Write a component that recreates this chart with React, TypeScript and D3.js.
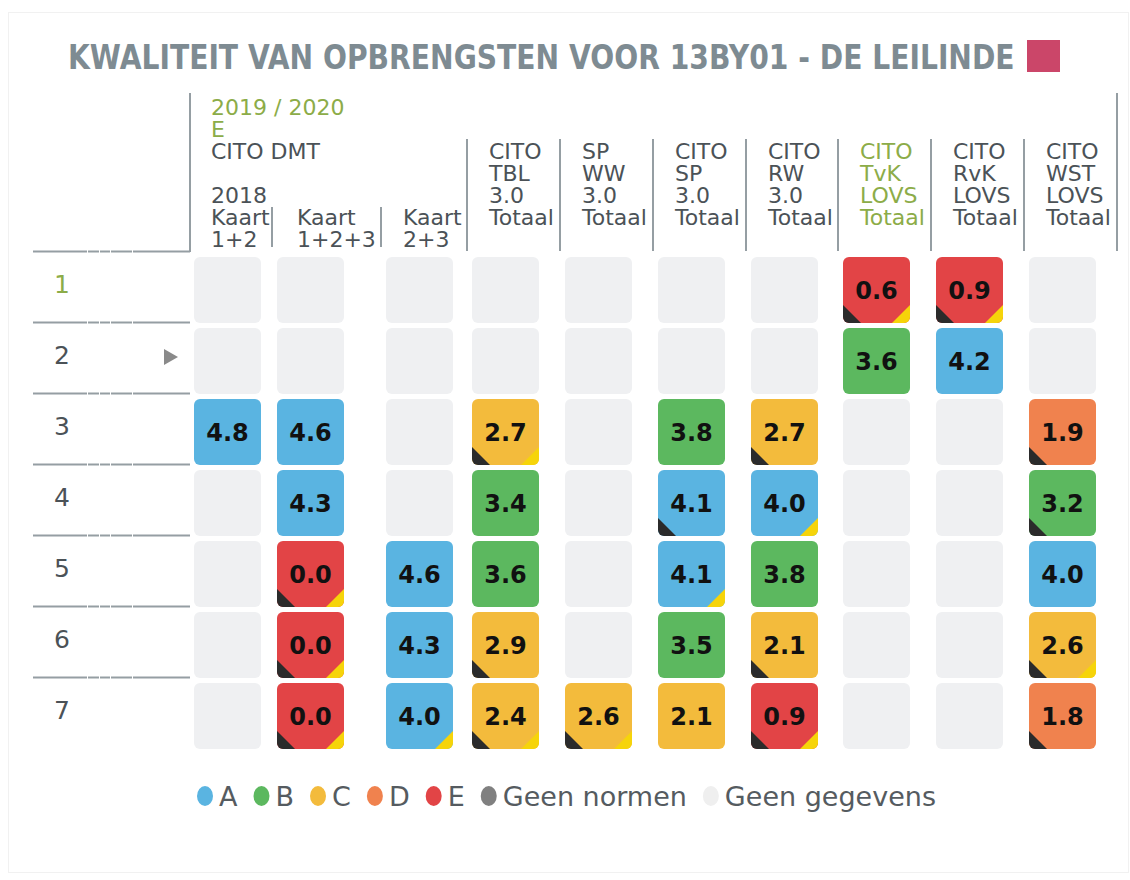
import React, { useEffect, useRef } from 'react';
import * as d3 from 'd3';

// rows = leerjaar (groep), columns = toetsen
const rows = ['1', '2', '3', '4', '5', '6', '7'];
const columns = ['DMT K12', 'DMT K123', 'DMT K23', 'TBL', 'SP WW', 'SP', 'RW', 'TvK', 'RvK', 'WST'];
const columnHeads = [
  ['Kaart', '1+2'],
  ['Kaart', '1+2+3'],
  ['Kaart', '2+3'],
  ['CITO', 'TBL', '3.0', 'Totaal'],
  ['SP', 'WW', '3.0', 'Totaal'],
  ['CITO', 'SP', '3.0', 'Totaal'],
  ['CITO', 'RW', '3.0', 'Totaal'],
  ['CITO', 'TvK', 'LOVS', 'Totaal'],
  ['CITO', 'RvK', 'LOVS', 'Totaal'],
  ['CITO', 'WST', 'LOVS', 'Totaal'],
];
const periodHead = ['2019 / 2020', 'E'];
const groupHead = ['CITO DMT', '', '2018'];
const highlightColumn = 'TvK';
const highlightRow = '1';
const markedRow = '2';

const scores: (number | null)[][] = [
  [null, null, null, null, null, null, null, 0.6, 0.9, null],
  [null, null, null, null, null, null, null, 3.6, 4.2, null],
  [4.8, 4.6, null, 2.7, null, 3.8, 2.7, null, null, 1.9],
  [null, 4.3, null, 3.4, null, 4.1, 4.0, null, null, 3.2],
  [null, 0.0, 4.6, 3.6, null, 4.1, 3.8, null, null, 4.0],
  [null, 0.0, 4.3, 2.9, null, 3.5, 2.1, null, null, 2.6],
  [null, 0.0, 4.0, 2.4, 2.6, 2.1, 0.9, null, null, 1.8],
];
// b = zwarte hoek links onder, y = gele hoek rechts onder
const flags: string[][] = [
  ['', '', '', '', '', '', '', 'by', 'by', ''],
  ['', '', '', '', '', '', '', '', '', ''],
  ['', '', '', 'by', '', '', 'b', '', '', 'b'],
  ['', '', '', '', '', 'b', 'y', '', '', 'b'],
  ['', 'by', '', '', '', 'y', '', '', '', ''],
  ['', 'by', '', 'b', '', '', 'b', '', '', 'by'],
  ['', 'by', 'y', 'by', 'by', '', 'by', '', '', 'b'],
];

const legendLabels = ['A', 'B', 'C', 'D', 'E', 'Geen normen', 'Geen gegevens'];
const legendColors = ['#5ab4e1', '#5cb85f', '#f3bb3c', '#f0824e', '#e24446', '#808080', '#efefef'];

const colWidths = [83, 109, 86, 93, 93, 93, 92, 93, 93, 93];
const font = '"DejaVu Sans", Verdana, sans-serif';
const textDark = '#4b5257';
const green = '#8cac48';
const lineGray = '#959ea3';
const emptyFill = '#eff0f2';

const App = () => {
  const svgRef = useRef<SVGSVGElement>(null);

  useEffect(() => {
    const svg = d3.select(svgRef.current);
    svg.selectAll('*').remove();

    const left = 189;
    const edges = [left, ...Array.from(d3.cumsum(colWidths), (v) => left + v)];
    const x = d3.scaleOrdinal<string, number>().domain(columns).range(edges.slice(0, columns.length));
    const y = d3.scaleBand<string>().domain(rows).range([252, 252 + 71 * rows.length]);
    const grade = d3.scaleThreshold<number, string>().domain([1, 2, 3, 4]).range(['E', 'D', 'C', 'B', 'A']);
    const gradeColor = d3.scaleOrdinal<string, string>().domain(legendLabels).range(legendColors);
    const lineH = 22;
    const base0 = 159;

    // card border
    svg.append('rect')
      .attr('x', 8.5).attr('y', 12.5).attr('width', 1120).attr('height', 860)
      .attr('fill', 'none').attr('stroke', '#f1f1f1');

    // title, squeezed horizontally to the reference width
    const titleG = svg.append('g');
    const title = titleG.append('text')
      .attr('x', 0).attr('y', 0)
      .attr('font-family', font).attr('font-weight', 'bold').attr('font-size', 34)
      .attr('fill', '#7e8b92')
      .text('KWALITEIT VAN OPBRENGSTEN VOOR 13BY01 - DE LEILINDE');
    const tw = (title.node() as SVGTextElement).getComputedTextLength() || 947;
    titleG.attr('transform', `translate(68,69) scale(${947 / tw},1)`);
    svg.append('rect')
      .attr('x', 1027).attr('y', 40).attr('width', 33).attr('height', 32)
      .attr('fill', '#cb4669');

    // header texts
    const head = svg.append('g').attr('font-family', font).attr('font-size', 22);
    periodHead.forEach((t, i) => {
      head.append('text').attr('x', left + 22).attr('y', base0 - lineH * (periodHead.length - i))
        .attr('fill', green).text(t);
    });
    groupHead.forEach((t, i) => {
      head.append('text').attr('x', left + 22).attr('y', base0 + lineH * i)
        .attr('fill', textDark).text(t);
    });
    columns.forEach((c, ci) => {
      const lines = columnHeads[ci];
      const first = lines.length === 2 ? 3 : 0;
      lines.forEach((t, i) => {
        head.append('text')
          .attr('x', x(c) + (ci === 1 ? 25 : 22))
          .attr('y', base0 + lineH * (first + i))
          .attr('fill', c === highlightColumn ? green : textDark)
          .text(t);
      });
    });

    // header separators
    const sep = svg.append('g').attr('stroke', lineGray).attr('stroke-width', 2);
    edges.slice(1).forEach((e, i) => {
      const last = i === edges.length - 2;
      const inGroup = i < 2;
      sep.append('line')
        .attr('x1', e).attr('x2', e)
        .attr('y1', last ? 93 : inGroup ? 207 : 139)
        .attr('y2', inGroup ? 247 : 251);
    });
    sep.append('line').attr('x1', left + 1).attr('x2', left + 1).attr('y1', 93).attr('y2', 252);

    // row separator lines on the left
    const segs = [[33, 87], [88, 99], [100, 110], [111, 132], [133, 190]];
    const rowLines = [y(rows[0])!, ...rows.slice(0, -1).map((r) => y(r)! + y.bandwidth())];
    rowLines.forEach((ly) => {
      segs.forEach(([a, b]) => {
        svg.append('line')
          .attr('x1', a).attr('x2', b).attr('y1', ly - 0.5).attr('y2', ly - 0.5)
          .attr('stroke', lineGray).attr('stroke-width', 2);
      });
    });

    // row labels
    rows.forEach((r) => {
      const cy = y(r)! + 5 + 33;
      svg.append('text')
        .attr('x', 62).attr('y', cy + 3)
        .attr('text-anchor', 'middle')
        .attr('font-family', font).attr('font-size', 25)
        .attr('fill', r === highlightRow ? green : textDark)
        .text(r);
      if (r === markedRow) {
        svg.append('path')
          .attr('d', `M164,${cy - 12}L178,${cy - 4}L164,${cy + 4}Z`)
          .attr('fill', '#8a8a8a');
      }
    });

    // cells
    const defs = svg.append('defs');
    const cw = 67;
    const chh = 66;
    const tri = 18;
    rows.forEach((r, ri) => {
      columns.forEach((c, ci) => {
        const cx = x(c) + 5;
        const cy = y(r)! + 5;
        const v = scores[ri][ci];
        const id = `clip-${ri}-${ci}`;
        defs.append('clipPath').attr('id', id)
          .append('rect').attr('x', cx).attr('y', cy).attr('width', cw).attr('height', chh).attr('rx', 6);
        const g = svg.append('g').attr('clip-path', `url(#${id})`);
        g.append('rect')
          .attr('x', cx).attr('y', cy).attr('width', cw).attr('height', chh)
          .attr('fill', v === null ? emptyFill : gradeColor(grade(v)));
        if (v === null) return;
        const f = flags[ri][ci];
        if (f.includes('b')) {
          g.append('path')
            .attr('d', `M${cx},${cy + chh - tri}L${cx + tri},${cy + chh}L${cx},${cy + chh}Z`)
            .attr('fill', '#2b2b2b');
        }
        if (f.includes('y')) {
          g.append('path')
            .attr('d', `M${cx + cw},${cy + chh - tri}L${cx + cw},${cy + chh}L${cx + cw - tri},${cy + chh}Z`)
            .attr('fill', '#f6d40a');
        }
        svg.append('text')
          .attr('x', cx + cw / 2).attr('y', cy + chh / 2)
          .attr('dy', '0.36em')
          .attr('text-anchor', 'middle')
          .attr('font-family', font).attr('font-weight', 'bold').attr('font-size', 24)
          .attr('fill', '#111')
          .text(d3.format('.1f')(v));
      });
    });

    // legend
    const lg = svg.append('g').attr('font-family', font).attr('font-size', 27);
    let dotX = 205;
    const ly = 796;
    legendLabels.forEach((l, i) => {
      lg.append('ellipse')
        .attr('cx', dotX).attr('cy', ly).attr('rx', 8).attr('ry', 10)
        .attr('fill', legendColors[i]);
      const t = lg.append('text')
        .attr('x', dotX + 14).attr('y', ly + 10)
        .attr('fill', '#555b60')
        .text(l);
      const w = (t.node() as SVGTextElement).getComputedTextLength();
      dotX = dotX + 14 + w + 24;
    });
  }, []);

  return (
    <svg
      ref={svgRef}
      width={1130}
      height={880}
      style={{ position: 'absolute', left: 0, top: 0, background: '#fff' }}
    />
  );
};

export default App;
